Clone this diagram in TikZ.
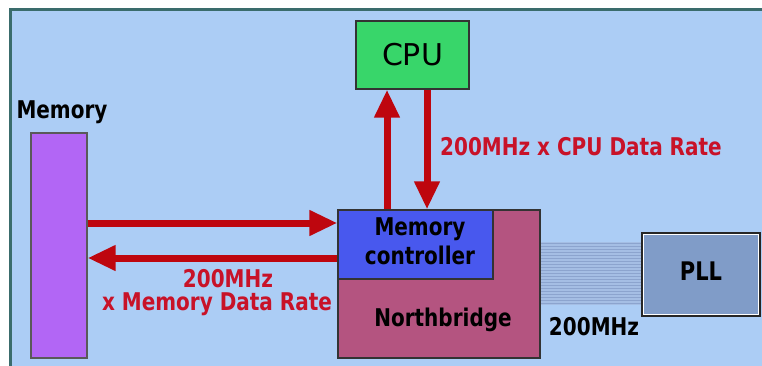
\documentclass[tikz,border=0pt]{standalone}
\usepackage{fontspec}
\setmainfont{DejaVu Sans}
\usepackage{graphicx}
\usetikzlibrary{arrows.meta}
\definecolor{bgblue}{RGB}{172,205,245}
\definecolor{frameteal}{RGB}{58,108,108}
\definecolor{cpugreen}{RGB}{56,214,106}
\definecolor{mempurple}{RGB}{178,102,245}
\definecolor{mcblue}{RGB}{72,88,238}
\definecolor{nbmauve}{RGB}{180,84,128}
\definecolor{pllblue}{RGB}{128,156,200}
\definecolor{arrred}{RGB}{190,6,14}
\definecolor{txtred}{RGB}{200,18,40}
\definecolor{stripe}{RGB}{140,164,206}
\definecolor{stripebg}{RGB}{165,190,228}
\newcommand{\vst}[1]{\scalebox{1}[1.22]{#1}}
\begin{document}
\begin{tikzpicture}[x=1pt,y=-1pt,
  box/.style={draw=black!80, line width=1.2pt, inner sep=0pt, anchor=center},
  lbl/.style={inner sep=0pt, font=\fontsize{20}{24.5}\selectfont\bfseries},
  redlbl/.style={lbl, text=txtred},
  bigarrow/.style={draw=arrred, line width=7pt, -{Triangle[length=28pt,width=24pt]}}
]
\useasboundingbox (0,0) rectangle (762,366);
\fill[white] (0,0) rectangle (762,366);
\fill[bgblue] (9,8) rectangle (762,366);
\draw[frameteal, line width=3pt] (10.5,366) -- (10.5,9.5) -- (762,9.5);

% boxes
\node[box, fill=cpugreen, minimum width=113pt, minimum height=68pt] (cpu) at (412.5,55) {\fontsize{30}{36}\selectfont CPU};
\node[box, fill=mempurple, draw=black!65, minimum width=56pt, minimum height=225pt] (mem) at (59,245.5) {};
\node[lbl] (memlbl) at (62,112) {\vst{Memory}};
\node[box, fill=nbmauve, minimum width=202pt, minimum height=148pt] (nb) at (439,284) {};
\node[box, fill=mcblue, minimum width=155pt, minimum height=69pt] (mc) at (415.5,244.5) {};
\node[lbl] (mctext) at (420,244) {\vst{\begin{tabular}{@{}c@{}}Memory\\controller\end{tabular}}};
\node[lbl] (nbtext) at (443,320) {\vst{Northbridge}};

% clock band
\fill[stripebg] (541,242) rectangle (642,305);
\foreach \yy in {243.5,246.5,...,304} \draw[stripe, line width=1pt] (541,\yy) -- (642,\yy);

\node[box, fill=pllblue, draw=black!85, minimum width=118pt, minimum height=83pt] (pll) at (701,274.5) {};
\draw[white, line width=1pt] ([shift={(2.5pt,-2.5pt)}]pll.north west) rectangle ([shift={(-2.5pt,2.5pt)}]pll.south east);
\node[lbl] (plltext) at (701,271) {\fontsize{21}{25}\selectfont\vst{PLL}};
\node[lbl] (clk) at (594,327) {\vst{200MHz}};

% arrows
\coordinate (ya) at (0,223);
\coordinate (yb) at (0,258);
\coordinate (xa) at (387,0);
\coordinate (xb) at (427,0);
\draw[bigarrow] (mem.east |- ya) -- (mc.west |- ya);
\draw[bigarrow] (mc.west |- yb) -- (mem.east |- yb);
\draw[bigarrow] (mc.north -| xa) -- (cpu.south -| xa);
\draw[bigarrow] (cpu.south -| xb) -- (mc.north -| xb);

% rate labels
\node[redlbl, anchor=west] (cpurate) at (440,147) {\vst{200MHz x CPU Data Rate}};
\node[redlbl] (memrate1) at (228,279) {\vst{200MHz}};
\node[redlbl] (memrate2) at (217,304) {\vst{x Memory Data Rate}};
\end{tikzpicture}
\end{document}
